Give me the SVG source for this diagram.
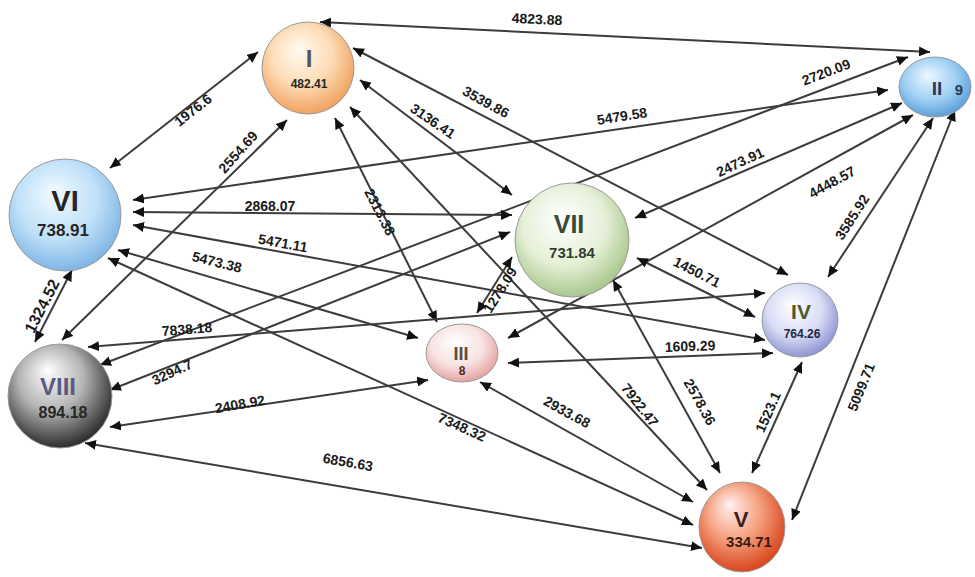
<svg xmlns="http://www.w3.org/2000/svg" width="975" height="577" viewBox="0 0 975 577">
<style>
.e{stroke:#3c3c3c;stroke-width:2;fill:none;marker-start:url(#ah);marker-end:url(#ah)}
.el{font-family:"Liberation Sans",Arial,sans-serif;font-weight:bold;font-size:14px;fill:#1a1a1a;text-anchor:middle;dominant-baseline:central}
.nl{font-family:"Liberation Sans",Arial,sans-serif;font-weight:bold;fill:#262626;text-anchor:middle;dominant-baseline:central}
.nd{stroke:#9a9a9a;stroke-width:1}
</style>
<defs>
<marker id="ah" markerUnits="userSpaceOnUse" markerWidth="12" markerHeight="10" refX="11" refY="5" orient="auto-start-reverse"><path d="M0,0 L11,5 L0,10 z" fill="#111"/></marker>
<radialGradient id="gI" cx="45%" cy="40%" r="60%" fx="40%" fy="30%"><stop offset="0" stop-color="#fffbf3"/><stop offset="0.55" stop-color="#fddcb6"/><stop offset="1" stop-color="#f0a260"/></radialGradient>
<radialGradient id="gII" cx="45%" cy="40%" r="60%" fx="40%" fy="30%"><stop offset="0" stop-color="#eef7ff"/><stop offset="0.6" stop-color="#9fd0f4"/><stop offset="1" stop-color="#5d9fd8"/></radialGradient>
<radialGradient id="gVI" cx="45%" cy="40%" r="60%" fx="40%" fy="30%"><stop offset="0" stop-color="#f3faff"/><stop offset="0.6" stop-color="#bfe0f8"/><stop offset="1" stop-color="#7fb6e4"/></radialGradient>
<radialGradient id="gVII" cx="45%" cy="40%" r="60%" fx="40%" fy="30%"><stop offset="0" stop-color="#ffffff"/><stop offset="0.6" stop-color="#e6f0d8"/><stop offset="1" stop-color="#a8c88c"/></radialGradient>
<radialGradient id="gIV" cx="45%" cy="40%" r="60%" fx="40%" fy="30%"><stop offset="0" stop-color="#ffffff"/><stop offset="0.6" stop-color="#d9ddf5"/><stop offset="1" stop-color="#8e96d2"/></radialGradient>
<radialGradient id="gIII" cx="45%" cy="40%" r="60%" fx="40%" fy="30%"><stop offset="0" stop-color="#ffffff"/><stop offset="0.6" stop-color="#f8e2e2"/><stop offset="1" stop-color="#e6a3a3"/></radialGradient>
<radialGradient id="gVIII" cx="45%" cy="40%" r="62%" fx="38%" fy="25%"><stop offset="0" stop-color="#ffffff"/><stop offset="0.5" stop-color="#b5b5b5"/><stop offset="1" stop-color="#262626"/></radialGradient>
<radialGradient id="gV" cx="45%" cy="40%" r="60%" fx="35%" fy="25%"><stop offset="0" stop-color="#fff0f0"/><stop offset="0.5" stop-color="#f5a584"/><stop offset="1" stop-color="#d9461c"/></radialGradient>
</defs>
<rect width="975" height="577" fill="#ffffff"/>
<g id="connectors">
<line class="e" x1="320" y1="22" x2="930" y2="52"/>
<line class="e" x1="258" y1="52" x2="110" y2="168"/>
<line class="e" x1="287" y1="120" x2="62" y2="340"/>
<line class="e" x1="353" y1="48" x2="788" y2="275"/>
<line class="e" x1="360" y1="80" x2="512" y2="195"/>
<line class="e" x1="335" y1="118" x2="437" y2="322"/>
<line class="e" x1="350" y1="107" x2="707" y2="490"/>
<line class="e" x1="888" y1="90" x2="133" y2="200"/>
<line class="e" x1="908" y1="57" x2="100" y2="365"/>
<line class="e" x1="902" y1="103" x2="635" y2="218"/>
<line class="e" x1="913" y1="115" x2="508" y2="338"/>
<line class="e" x1="933" y1="118" x2="828" y2="277"/>
<line class="e" x1="955" y1="110" x2="792" y2="520"/>
<line class="e" x1="133" y1="212" x2="512" y2="215"/>
<line class="e" x1="133" y1="225" x2="765" y2="340"/>
<line class="e" x1="118" y1="250" x2="418" y2="338"/>
<line class="e" x1="108" y1="258" x2="693" y2="525"/>
<line class="e" x1="72" y1="270" x2="35" y2="342"/>
<line class="e" x1="88" y1="347" x2="765" y2="293"/>
<line class="e" x1="110" y1="390" x2="510" y2="232"/>
<line class="e" x1="110" y1="427" x2="428" y2="380"/>
<line class="e" x1="85" y1="443" x2="702" y2="548"/>
<line class="e" x1="512" y1="257" x2="477" y2="313"/>
<line class="e" x1="637" y1="258" x2="755" y2="317"/>
<line class="e" x1="613" y1="280" x2="720" y2="473"/>
<line class="e" x1="508" y1="363" x2="773" y2="353"/>
<line class="e" x1="480" y1="382" x2="693" y2="502"/>
<line class="e" x1="802" y1="362" x2="752" y2="473"/>
</g>
<g id="edge-labels">
<text class="el" x="537" y="19" transform="rotate(2.8 537 19)">4823.88</text>
<text class="el" x="193" y="110" transform="rotate(-38 193 110)">1976.6</text>
<text class="el" x="238" y="152" transform="rotate(-48 238 152)">2554.69</text>
<text class="el" x="486" y="102" transform="rotate(29 486 102)">3539.86</text>
<text class="el" x="433" y="121" transform="rotate(34 433 121)">3136.41</text>
<text class="el" x="380" y="212" transform="rotate(63 380 212)">2313.38</text>
<text class="el" x="640" y="405" transform="rotate(52 640 405)">7922.47</text>
<text class="el" x="622" y="116" transform="rotate(-9 622 116)">5479.58</text>
<text class="el" x="826" y="72" transform="rotate(-21 826 72)">2720.09</text>
<text class="el" x="740" y="162" transform="rotate(-25 740 162)">2473.91</text>
<text class="el" x="832" y="182" transform="rotate(-29 832 182)">4448.57</text>
<text class="el" x="852" y="217" transform="rotate(-57 852 217)">3585.92</text>
<text class="el" x="861" y="387" transform="rotate(-68 861 387)">5099.71</text>
<text class="el" x="270" y="206">2868.07</text>
<text class="el" x="283" y="243" transform="rotate(10 283 243)">5471.11</text>
<text class="el" x="217" y="262" transform="rotate(14 217 262)">5473.38</text>
<text class="el" x="462" y="427" transform="rotate(24 462 427)">7348.32</text>
<text class="el" x="42" y="306" style="font-size:16px" transform="rotate(-63 42 306)">1324.52</text>
<text class="el" x="187" y="329" transform="rotate(-4.6 187 329)">7838.18</text>
<text class="el" x="172" y="372" transform="rotate(-25 172 372)">3294.7</text>
<text class="el" x="240" y="404" transform="rotate(-10 240 404)">2408.92</text>
<text class="el" x="348" y="462" transform="rotate(10 348 462)">6856.63</text>
<text class="el" x="500" y="290" transform="rotate(-58 500 290)">1278.09</text>
<text class="el" x="697" y="272" transform="rotate(27 697 272)">1450.71</text>
<text class="el" x="700" y="402" transform="rotate(61 700 402)">2578.36</text>
<text class="el" x="690" y="346" transform="rotate(-2 690 346)">1609.29</text>
<text class="el" x="567" y="412" transform="rotate(29 567 412)">2933.68</text>
<text class="el" x="768" y="412" transform="rotate(-66 768 412)">1523.1</text>
</g>
<g id="node-I"><circle class="nd" cx="308" cy="68" r="46" fill="url(#gI)"/><text class="nl" x="309" y="58" style="font-size:24px;fill:#555">I</text><text class="nl" x="309" y="84" style="font-size:12px">482.41</text></g>
<g id="node-II"><ellipse class="nd" cx="935" cy="87" rx="36" ry="30" fill="url(#gII)"/><text class="nl" x="937" y="88" style="font-size:19px;fill:#2a3a55">II</text><text class="nl" x="959" y="89" style="font-size:15px;fill:#2a3a55">9</text></g>
<g id="node-VI"><circle class="nd" cx="65" cy="215" r="56" fill="url(#gVI)"/><text class="nl" x="65" y="201" style="font-size:29px">VI</text><text class="nl" x="63" y="230" style="font-size:17px">738.91</text></g>
<g id="node-VII"><circle class="nd" cx="572" cy="240" r="57" fill="url(#gVII)"/><text class="nl" x="569" y="224" style="font-size:25px;fill:#3a4a3a">VII</text><text class="nl" x="572" y="252" style="font-size:15px;fill:#2e3e2e">731.84</text></g>
<g id="node-IV"><ellipse class="nd" cx="800" cy="320" rx="38" ry="37" fill="url(#gIV)"/><text class="nl" x="801" y="311" style="font-size:21px;fill:#4b5a30">IV</text><text class="nl" x="802" y="334" style="font-size:12px;fill:#22264a">764.26</text></g>
<g id="node-III"><ellipse class="nd" cx="462" cy="353" rx="36" ry="29" fill="url(#gIII)"/><text class="nl" x="461" y="354" style="font-size:18px;fill:#5a4a40">III</text><text class="nl" x="462" y="371" style="font-size:12px;fill:#4a2a20">8</text></g>
<g id="node-VIII"><circle class="nd" cx="60" cy="396" r="52" fill="url(#gVIII)"/><text class="nl" x="58" y="386" style="font-size:24px;fill:#5a5a82">VIII</text><text class="nl" x="63" y="412" style="font-size:16px">894.18</text></g>
<g id="node-V"><ellipse class="nd" cx="742" cy="527" rx="43" ry="45" fill="url(#gV)"/><text class="nl" x="741" y="519" style="font-size:22px;fill:#3a2020">V</text><text class="nl" x="749" y="541" style="font-size:15px;fill:#3a1a10">334.71</text></g>
</svg>
